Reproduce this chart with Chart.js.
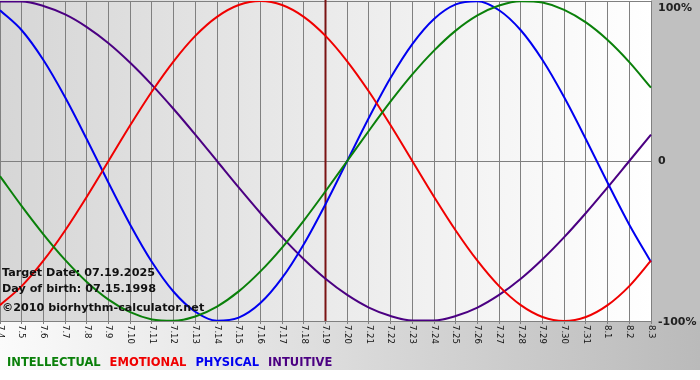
<!DOCTYPE html>
<html>
<head>
<meta charset="utf-8">
<script src="https://cdn.jsdelivr.net/npm/chart.js@4/dist/chart.umd.min.js"></script>
<style>
  html, body { margin: 0; padding: 0; background: #fff; }
  canvas { display: block; }
</style>
</head>
<body>
<canvas id="bioChart" width="700" height="380"></canvas>
<script>
// days shown on the x axis
const dayLabels = ['7.4', '7.5', '7.6', '7.7', '7.8', '7.9', '7.10', '7.11', '7.12', '7.13',
  '7.14', '7.15', '7.16', '7.17', '7.18', '7.19', '7.20', '7.21', '7.22', '7.23',
  '7.24', '7.25', '7.26', '7.27', '7.28', '7.29', '7.30', '7.31', '8.1', '8.2', '8.3'];

// cycle values in percent, one per day
const intellectual = [-9.5, -28.2, -45.8, -61.8, -75.6, -86.6, -94.5, -99.0, -99.9, -97.2,
  -91.0, -81.5, -69.0, -54.1, -37.2, -18.9, 0, 18.9, 37.2, 54.1,
  69.0, 81.5, 91.0, 97.2, 99.9, 99.0, 94.5, 86.6, 75.6, 61.8, 45.8];
const emotional = [-90.1, -78.2, -62.3, -43.4, -22.3, 0, 22.3, 43.4, 62.3, 78.2,
  90.1, 97.5, 100, 97.5, 90.1, 78.2, 62.3, 43.4, 22.3, 0,
  -22.3, -43.4, -62.3, -78.2, -90.1, -97.5, -100, -97.5, -90.1, -78.2, -62.3];
const physical = [94.2, 81.7, 63.1, 39.8, 13.6, -13.6, -39.8, -63.1, -81.7, -94.2,
  -99.8, -97.9, -88.8, -73.1, -52.0, -27.0, 0, 27.0, 52.0, 73.1,
  88.8, 97.9, 99.8, 94.2, 81.7, 63.1, 39.8, 13.6, -13.6, -39.8, -63.1];
const intuitive = [99.7, 99.7, 96.9, 91.6, 83.7, 73.6, 61.4, 47.6, 32.5, 16.5,
  0, -16.5, -32.5, -47.6, -61.4, -73.6, -83.7, -91.6, -96.9, -99.7,
  -99.7, -96.9, -91.6, -83.7, -73.6, -61.4, -47.6, -32.5, -16.5, 0, 16.5];

const yTickValues = [100, 0, -100];
const yTickLabels = ['100%', '0', '-100%'];
const targetDay = '7.19';
const infoLines = ['Target Date: 07.19.2025', 'Day of birth: 07.15.1998', '\u00a92010 biorhythm-calculator.net'];
const legendNames = ['INTELLECTUAL', 'EMOTIONAL', 'PHYSICAL', 'INTUITIVE'];
const legendColors = ['#0a800a', '#f00000', '#0000f0', '#4b0082'];

// backgrounds, marker line and all the custom text
const decorPlugin = {
    id: 'decor',
    beforeDraw(chart) {
        const { ctx, chartArea: a, width, height } = chart;
        ctx.save();
        ctx.fillStyle = '#ffffff';
        ctx.fillRect(0, 0, width, height);
        // lower strip
        let g = ctx.createLinearGradient(0, 0, width, 0);
        g.addColorStop(0, '#fbfbfb');
        g.addColorStop(1, '#bababa');
        ctx.fillStyle = g;
        ctx.fillRect(0, a.bottom, width, 370 - a.bottom);
        // right panel
        ctx.fillStyle = '#c0c0c0';
        ctx.fillRect(a.right, 0, width - a.right, a.bottom);
        // plot area
        g = ctx.createLinearGradient(a.left, 0, a.right, 0);
        g.addColorStop(0, '#d6d6d6');
        g.addColorStop(1, '#ffffff');
        ctx.fillStyle = g;
        ctx.fillRect(a.left, 0, a.right - a.left, a.bottom);
        ctx.restore();
    },
    beforeDatasetsDraw(chart) {
        const { ctx, chartArea: a, scales } = chart;
        const x = scales.x.getPixelForValue(dayLabels.indexOf(targetDay));
        ctx.save();
        ctx.strokeStyle = '#7a1414';
        ctx.lineWidth = 2;
        ctx.beginPath();
        ctx.moveTo(x, a.top - 1);
        ctx.lineTo(x, a.bottom);
        ctx.stroke();
        ctx.restore();
    },
    afterDatasetsDraw(chart) {
        const { ctx, chartArea: a, scales } = chart;
        ctx.save();

        // day labels, turned clockwise
        ctx.fillStyle = '#111';
        ctx.font = '8.5px "DejaVu Sans"';
        ctx.textAlign = 'left';
        ctx.textBaseline = 'middle';
        dayLabels.forEach((d, i) => {
            const x = scales.x.getPixelForValue(i);
            ctx.save();
            ctx.translate(x, a.bottom + 4);
            ctx.rotate(Math.PI / 2);
            ctx.fillText(d, 0, 0);
            ctx.restore();
        });

        // percent labels on the right
        ctx.font = 'bold 11px "DejaVu Sans"';
        ctx.fillStyle = '#222';
        yTickValues.forEach((v, i) => {
            let y = scales.y.getPixelForValue(v);
            if (v === 100) y += 7;
            if (v === -100) y += 1;
            ctx.fillText(yTickLabels[i], a.right + 7, y);
        });

        // info text
        ctx.textBaseline = 'alphabetic';
        ctx.fillStyle = '#111';
        ctx.font = 'bold 11.2px "DejaVu Sans"';
        const base = [276, 292, 311];
        infoLines.forEach((t, i) => ctx.fillText(t, 2, base[i]));

        // legend
        ctx.font = 'bold 11.5px "DejaVu Sans"';
        let lx = 7;
        legendNames.forEach((n, i) => {
            ctx.fillStyle = legendColors[i];
            ctx.fillText(n, lx, 366);
            lx += ctx.measureText(n).width + 9;
        });
        ctx.restore();
    }
};

const mkSet = (label, data, color) => ({
    label,
    data,
    borderColor: color,
    backgroundColor: color,
    borderWidth: 2,
    pointRadius: 0,
    fill: false,
    cubicInterpolationMode: 'monotone'
});

const chart = new Chart(document.getElementById('bioChart').getContext('2d'), {
    type: 'line',
    data: {
        labels: dayLabels,
        datasets: [
            mkSet('INTELLECTUAL', intellectual, legendColors[0]),
            mkSet('EMOTIONAL', emotional, legendColors[1]),
            mkSet('PHYSICAL', physical, legendColors[2]),
            mkSet('INTUITIVE', intuitive, legendColors[3])
        ]
    },
    options: {
        responsive: false,
        animation: false,
        devicePixelRatio: 1,
        layout: { padding: { top: 1, left: 0, right: 0, bottom: 0 } },
        plugins: {
            legend: { display: false },
            tooltip: { enabled: false }
        },
        scales: {
            x: {
                offset: false,
                grid: { color: '#808080', lineWidth: 1, drawTicks: true, tickLength: 3 },
                border: { color: '#808080' },
                ticks: { display: false, autoSkip: false },
                afterFit: s => { s.height = 59; }
            },
            y: {
                position: 'right',
                min: -100,
                max: 100,
                grid: { color: '#808080', lineWidth: 1, drawTicks: false },
                border: { color: '#808080' },
                ticks: { display: false, stepSize: 100 },
                afterFit: s => { s.width = 49; }
            }
        }
    },
    plugins: [decorPlugin]
});
</script>
</body>
</html>
